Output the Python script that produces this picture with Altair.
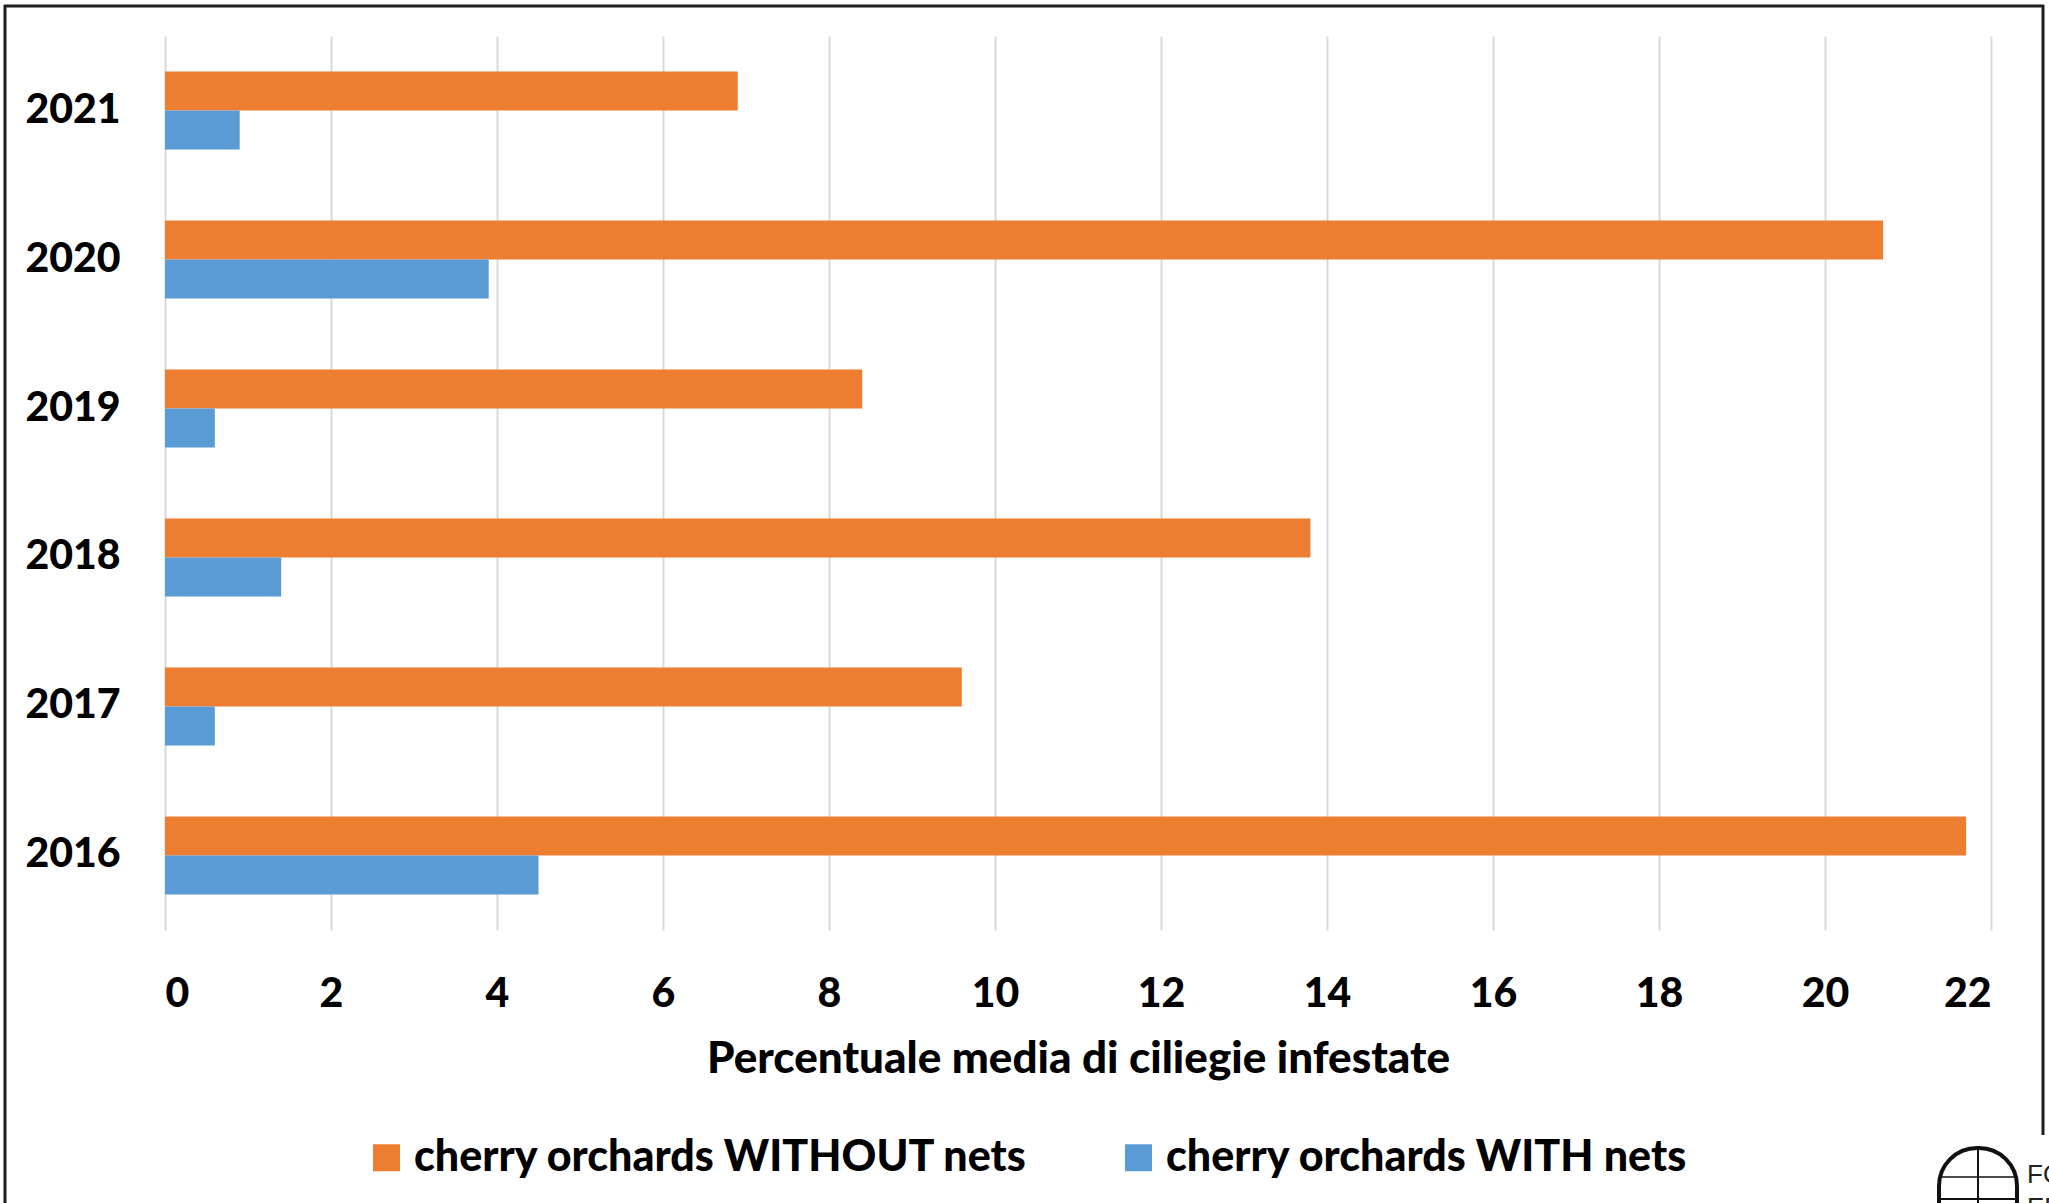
import altair as alt
import pandas as pd

# Mean share of infested cherries per year, orchards without / with nets
years = ["2021", "2020", "2019", "2018", "2017", "2016"]
without_nets = [6.9, 20.7, 8.4, 13.8, 9.6, 21.7]
with_nets = [0.9, 3.9, 0.6, 1.4, 0.6, 4.5]
series_names = ["cherry orchards WITHOUT nets", "cherry orchards WITH nets"]
series_colors = ["#ED7D31", "#5B9BD5"]
x_ticks = list(range(0, 23, 2))
logo_lines = ["FONDAZIONE", "EDMUND MACH"]

rows = []
for yr, a, b in zip(years, without_nets, with_nets):
    rows.append({"anno": yr, "serie": series_names[0], "valore": a})
    rows.append({"anno": yr, "serie": series_names[1], "valore": b})
df = pd.DataFrame(rows)

FONT = "Lato"
WEIGHT = 900
W, H = 1826, 894

bars = alt.Chart(df).mark_bar().encode(
    x=alt.X(
        "valore:Q",
        scale=alt.Scale(domain=[0, 22], nice=False, zero=True),
        axis=alt.Axis(
            values=x_ticks,
            grid=True,
            gridColor="#D9D9D9",
            gridWidth=2,
            domain=False,
            ticks=False,
            tickSize=0,
            labelFont=FONT,
            labelFontWeight=WEIGHT,
            labelFontSize=41,
            labelColor="black",
            labelPadding=44,
            title="Percentuale media di ciliegie infestate",
            titleFont=FONT,
            titleFontWeight=WEIGHT,
            titleFontSize=44,
            titleColor="black",
            titleBaseline="alphabetic",
            titleY=142,
        ),
    ),
    y=alt.Y(
        "anno:N",
        sort=years,
        scale=alt.Scale(paddingInner=0.4765, paddingOuter=0.2383),
        axis=alt.Axis(
            grid=False,
            domain=False,
            ticks=False,
            tickSize=0,
            labelFont=FONT,
            labelFontWeight=WEIGHT,
            labelFontSize=41,
            labelColor="black",
            labelPadding=45,
            title=None,
        ),
    ),
    yOffset=alt.YOffset("serie:N", sort=series_names, scale=alt.Scale(paddingInner=0, paddingOuter=0)),
    color=alt.Color(
        "serie:N",
        sort=series_names,
        scale=alt.Scale(domain=series_names, range=series_colors),
        legend=alt.Legend(
            orient="none",
            legendX=200,
            legendY=1100,
            direction="horizontal",
            title=None,
            symbolType="square",
            symbolSize=729,
            symbolStrokeWidth=0,
            symbolOpacity=1,
            labelFont=FONT,
            labelFontWeight=WEIGHT,
            labelFontSize=43,
            labelColor="black",
            labelOffset=6,
            labelLimit=2000,
            columnPadding=88,
            padding=0,
        ),
    ),
)

one = pd.DataFrame({"k": [0]})
FRAME = "#1E1E1E"
left_edge = alt.Chart(one).mark_rule(color=FRAME, strokeWidth=3).encode(
    x=alt.value(-160), y=alt.value(-31), y2=alt.value(1175)
)
top_edge = alt.Chart(one).mark_rule(color=FRAME, strokeWidth=3).encode(
    x=alt.value(-161), x2=alt.value(1879), y=alt.value(-30)
)
right_edge = alt.Chart(one).mark_rule(color=FRAME, strokeWidth=3).encode(
    x=alt.value(1878), y=alt.value(-31), y2=alt.value(1099)
)

# Foundation emblem in the lower right corner
emblem = alt.Chart(one).mark_rect(
    fillOpacity=0, stroke="#111111", strokeWidth=4,
    cornerRadiusTopLeft=38, cornerRadiusTopRight=38,
).encode(
    x=alt.value(1774), x2=alt.value(1852), y=alt.value(1112), y2=alt.value(1200)
)
emblem_v = alt.Chart(one).mark_rule(color="#111111", strokeWidth=2).encode(
    x=alt.value(1813), y=alt.value(1112), y2=alt.value(1200)
)
emblem_h1 = alt.Chart(one).mark_rule(color="#111111", strokeWidth=1.5).encode(
    x=alt.value(1775), x2=alt.value(1851), y=alt.value(1141)
)
emblem_h2 = alt.Chart(one).mark_rule(color="#111111", strokeWidth=2).encode(
    x=alt.value(1775), x2=alt.value(1851), y=alt.value(1163)
)
logo_df = pd.DataFrame({"riga": logo_lines, "i": [0, 1]})
logo_text = alt.Chart(logo_df).mark_text(
    align="left", baseline="alphabetic", font="Liberation Sans", fontSize=26, color="#222222"
).encode(
    x=alt.value(1862),
    y=alt.value(1147),
    text="riga:N",
).transform_filter("datum.i == 0")
logo_text2 = alt.Chart(logo_df).mark_text(
    align="left", baseline="alphabetic", font="Liberation Sans", fontSize=26, color="#222222"
).encode(
    x=alt.value(1862),
    y=alt.value(1180),
    text="riga:N",
).transform_filter("datum.i == 1")

chart = (
    alt.layer(bars, left_edge, top_edge, right_edge,
              emblem, emblem_v, emblem_h1, emblem_h2, logo_text, logo_text2)
    .properties(
        width=W,
        height=H,
        autosize=alt.AutoSizeParams(type="none"),
        padding={"left": 165, "top": 36, "right": 58, "bottom": 273},
        background="white",
    )
    .configure_view(stroke=None)
)

chart.save("out.html", embed_options={"renderer": "svg", "actions": False})
